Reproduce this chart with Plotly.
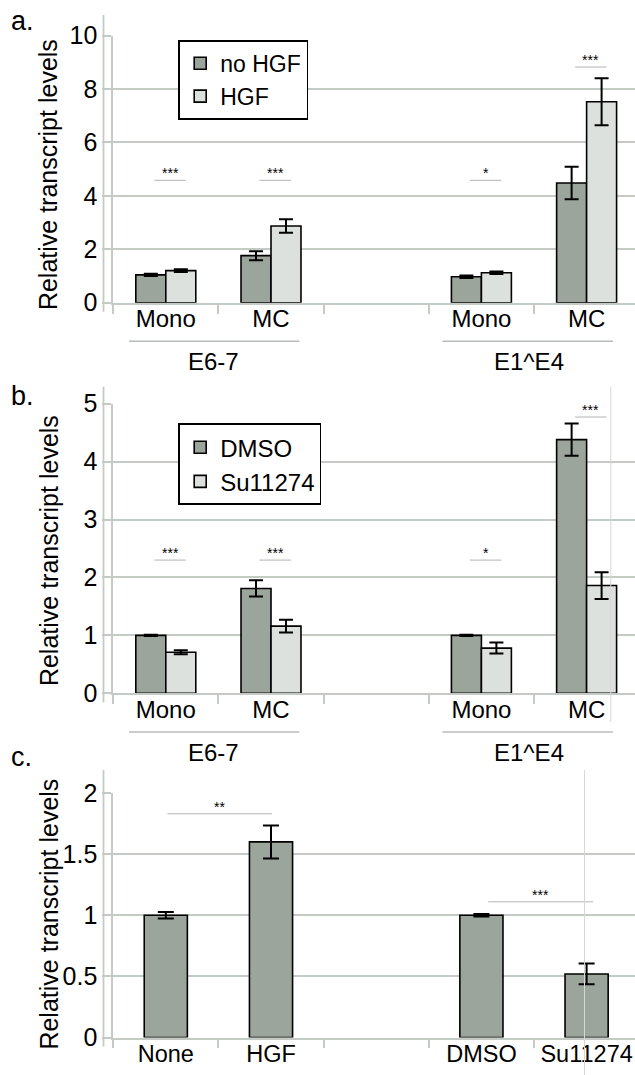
import plotly.graph_objects as go

W, H = 635, 1075
FONT = "Liberation Sans, Arial, sans-serif"

# ---------------- data ----------------
cat_ticks_ab = [0, 1, 3, 4]
cat_labels_ab = ["Mono", "MC", "Mono", "MC"]
group_labels = ["E6-7", "E1^E4"]
group_x = [0.45, 3.45]
group_line_x0 = [-0.35, 2.63]
group_line_x1 = [1.27, 4.25]

# panel a
a_x = [0, 1, 3, 4]
a_nohgf = [1.04, 1.76, 0.97, 4.48]
a_nohgf_err = [0.04, 0.17, 0.05, 0.61]
a_hgf = [1.20, 2.87, 1.12, 7.52]
a_hgf_err = [0.05, 0.25, 0.05, 0.88]
a_sig_x = [0, 1, 3, 4]
a_sig_y = [4.58, 4.58, 4.58, 8.82]
a_sig_text = ["***", "***", "*", "***"]

# panel b
b_x = [0, 1, 3, 4]
b_dmso = [1.00, 1.81, 1.00, 4.38]
b_dmso_err = [0.01, 0.14, 0.01, 0.28]
b_su = [0.71, 1.16, 0.78, 1.86]
b_su_err = [0.035, 0.11, 0.095, 0.23]
b_sig_x = [0, 1, 3, 4]
b_sig_y = [2.30, 2.30, 2.30, 4.77]
b_sig_text = ["***", "***", "*", "***"]

# panel c
c_x = [0, 1, 3, 4]
c_labels = ["None", "HGF", "DMSO", "Su11274"]
c_vals = [1.00, 1.60, 1.00, 0.52]
c_err = [0.027, 0.135, 0.01, 0.085]
c_sig_x0 = [0.015, 3.065]
c_sig_x1 = [1.01, 4.06]
c_sig_y = [1.83, 1.11]
c_sig_text = ["**", "***"]

# ---------------- style ----------------
DARK = "#9ca59c"
LIGHT = "#dde1de"
GRID = "#c4cbc4"
SIGLINE = "#b4b4b4"
BW = 0.285  # bar width in slot units (paired)
CW = 0.41   # bar width panel c
XR = [-0.5, 4.46]


def py(px):
    return 1 - px / H


X0 = 113.2 / W
panels = {
    "a": dict(top=35.5, bot=302.7),
    "b": dict(top=403.7, bot=693.3),
    "c": dict(top=793.0, bot=1037.5),
}

fig = go.Figure()
err_style = dict(type="data", color="black", thickness=2, width=7)
bar_line = dict(color="black", width=1.6)

# panel a
fig.add_trace(go.Bar(x=a_x, y=a_nohgf, name="no HGF", width=BW, offset=-BW,
                     marker=dict(color=DARK, line=bar_line),
                     error_y=dict(array=a_nohgf_err, **err_style),
                     xaxis="x", yaxis="y", legend="legend"))
fig.add_trace(go.Bar(x=a_x, y=a_hgf, name="HGF", width=BW, offset=0,
                     marker=dict(color=LIGHT, line=bar_line),
                     error_y=dict(array=a_hgf_err, **err_style),
                     xaxis="x", yaxis="y", legend="legend"))
# panel b
fig.add_trace(go.Bar(x=b_x, y=b_dmso, name="DMSO", width=BW, offset=-BW,
                     marker=dict(color=DARK, line=bar_line),
                     error_y=dict(array=b_dmso_err, **err_style),
                     xaxis="x2", yaxis="y2", legend="legend2"))
fig.add_trace(go.Bar(x=b_x, y=b_su, name="Su11274", width=BW, offset=0,
                     marker=dict(color=LIGHT, line=bar_line),
                     error_y=dict(array=b_su_err, **err_style),
                     xaxis="x2", yaxis="y2", legend="legend2"))
# panel c
fig.add_trace(go.Bar(x=c_x, y=c_vals, width=CW, showlegend=False,
                     marker=dict(color=DARK, line=bar_line),
                     error_y=dict(array=c_err, type="data", color="black",
                                  thickness=2, width=8),
                     xaxis="x3", yaxis="y3"))


def xaxis(ticktext, tickvals, anchor, fsize=24):
    return dict(domain=[X0, 1.0], range=XR, anchor=anchor,
                tickvals=tickvals, ticktext=ticktext, ticks="",
                showgrid=False, zeroline=False, showline=True,
                linecolor=GRID, linewidth=1.8, automargin=False,
                ticklabelstandoff=-6,
                tickfont=dict(size=fsize, color="black", family=FONT),
                minor=dict(tickmode="linear", tick0=-0.5, dtick=1,
                           ticks="outside", ticklen=9, tickcolor=GRID,
                           tickwidth=1.8, showgrid=False),
                fixedrange=True)


def yaxis(rng, dtick, p, anchor):
    return dict(domain=[py(p["bot"]), py(p["top"])], range=rng, dtick=dtick,
                anchor=anchor, showgrid=True, gridcolor=GRID, gridwidth=1.8,
                zeroline=False, showline=True, linecolor=GRID, linewidth=1.8,
                ticks="outside", ticklen=9, tickcolor=GRID, tickwidth=1.8,
                automargin=False,
                tickfont=dict(size=25, color="black", family=FONT),
                fixedrange=True)


fig.update_layout(
    width=W, height=H, margin=dict(l=0, r=0, t=0, b=0, autoexpand=False),
    paper_bgcolor="white", plot_bgcolor="white",
    barmode="overlay",
    font=dict(family=FONT, color="black"),
    xaxis=xaxis(cat_labels_ab, cat_ticks_ab, "y"),
    xaxis2=xaxis(cat_labels_ab, cat_ticks_ab, "y2"),
    xaxis3=xaxis(c_labels, c_x, "y3", fsize=23.5),
    yaxis=yaxis([0, 10], 2, panels["a"], "x"),
    yaxis2=yaxis([0, 5], 1, panels["b"], "x2"),
    yaxis3=yaxis([0, 2], 0.5, panels["c"], "x3"),
    legend=dict(x=178.4 / W, y=py(40), xanchor="left", yanchor="top",
                bgcolor="white", bordercolor="black", borderwidth=1.8,
                font=dict(size=23, family=FONT, color="black"),
                traceorder="normal"),
    legend2=dict(x=178.4 / W, y=py(423.3), xanchor="left", yanchor="top",
                 bgcolor="white", bordercolor="black", borderwidth=1.8,
                 font=dict(size=24, family=FONT, color="black"),
                 traceorder="normal"),
)

shapes = []
annotations = []

# panel letters
for letter, ypx in [("a.", 21), ("b.", 396), ("c.", 757)]:
    annotations.append(dict(text=letter, x=9 / W, y=py(ypx), xref="paper", yref="paper",
                            xanchor="left", yanchor="middle", showarrow=False,
                            font=dict(size=27, family=FONT, color="black")))

# y titles
for ycen in [174.5, 550.5, 914]:
    annotations.append(dict(text="Relative transcript levels", x=48.6 / W, y=py(ycen),
                            xref="paper", yref="paper", textangle=-90,
                            xanchor="center", yanchor="middle", showarrow=False,
                            font=dict(size=25, family=FONT, color="black")))

# group labels + underlines for a and b
for xr, p, in [("x", panels["a"]), ("x2", panels["b"])]:
    for lab, gx, l0, l1 in zip(group_labels, group_x, group_line_x0, group_line_x1):
        annotations.append(dict(text=lab, x=gx, y=py(p["bot"] + 59), xref=xr, yref="paper",
                                xanchor="center", yanchor="middle", showarrow=False,
                                font=dict(size=24, family=FONT, color="black")))
        shapes.append(dict(type="line", xref=xr, yref="paper", x0=l0, x1=l1,
                           y0=py(p["bot"] + 38.6), y1=py(p["bot"] + 38.6),
                           line=dict(color="#b8bcb8", width=1.5)))

# outer left frame lines
plot_w = W - 113.2
for xr, yr, p, top_ext in [("x", "y", panels["a"], 20.5), ("x2", "y2", panels["b"], 17),
                           ("x3", "y3", panels["c"], 23)]:
    h = p["bot"] - p["top"]
    shapes.append(dict(type="line", xref=xr + " domain", yref=yr + " domain",
                       x0=-9.7 / plot_w, x1=-9.7 / plot_w, y0=-9 / h, y1=1 + top_ext / h,
                       line=dict(color=GRID, width=1.8)))

# significance marks, paired panels
for xr, yr, sx, sy, st in [("x", "y", a_sig_x, a_sig_y, a_sig_text),
                           ("x2", "y2", b_sig_x, b_sig_y, b_sig_text)]:
    for x, y, t in zip(sx, sy, st):
        shapes.append(dict(type="line", xref=xr, yref=yr, x0=x + 0.04 - 0.15, x1=x + 0.04 + 0.15,
                           y0=y, y1=y, line=dict(color=SIGLINE, width=1)))
        annotations.append(dict(text=t, x=x + 0.04, y=y, xref=xr, yref=yr,
                                xanchor="center", yanchor="bottom", showarrow=False,
                                yshift=-3, font=dict(size=14, family=FONT, color="black")))

# significance marks panel c
for x0, x1, y, t in zip(c_sig_x0, c_sig_x1, c_sig_y, c_sig_text):
    shapes.append(dict(type="line", xref="x3", yref="y3", x0=x0, x1=x1, y0=y, y1=y,
                       line=dict(color=SIGLINE, width=1)))
    annotations.append(dict(text=t, x=(x0 + x1) / 2, y=y, xref="x3", yref="y3",
                            xanchor="center", yanchor="bottom", showarrow=False,
                            yshift=-3, font=dict(size=14, family=FONT, color="black")))

# faint vertical artifact lines present in the figure
shapes.append(dict(type="line", xref="x2", yref="paper", x0=4.23, x1=4.23,
                   y0=py(386.7), y1=py(722), line=dict(color="#d6d6d6", width=1)))
shapes.append(dict(type="line", xref="x3", yref="paper", x0=3.98, x1=3.98,
                   y0=py(770), y1=0, line=dict(color="#d6d6d6", width=1)))

fig.update_layout(shapes=shapes, annotations=annotations)

# remove the browser's default 8px body margin so the figure sits at (0, 0)
fig.write_html("out.html",
               config={"displayModeBar": False},
               post_script="document.body.style.margin='0';document.body.style.overflow='hidden';")
